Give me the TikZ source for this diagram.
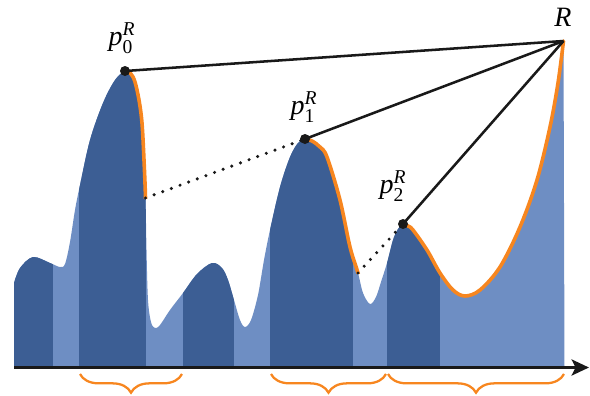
\documentclass[tikz,border=0pt]{standalone}
\usepackage{amsmath}
\usepackage{fontspec}
\setmainfont{Liberation Serif}
\usetikzlibrary{arrows.meta,decorations.pathreplacing}
\definecolor{darkb}{HTML}{3C5E94}
\definecolor{lightb}{HTML}{6E8EC3}
\definecolor{orng}{HTML}{F7861F}
\begin{document}
\begin{tikzpicture}[x=0.75pt,y=-0.75pt,
  lbl/.style={inner sep=0pt,font=\fontsize{21}{25}\selectfont},
  blackline/.style={line width=1.9pt,black!90},
  dotline/.style={line width=2.6pt,black!90,line cap=round,dash pattern=on 0pt off 6.9pt},
  orangeline/.style={line width=2.7pt,orng,line cap=round},
  dotnode/.style={circle,fill=black!90,inner sep=0pt,minimum size=7.5pt},
  bracestyle/.style={orng,line width=1.7pt,decorate,decoration={brace,mirror,amplitude=14pt}}]
\useasboundingbox (0,0) rectangle (590,396);
\def\curve{plot[smooth,tension=0.55] coordinates {(14,283) (20,268) (33,257) (50,263) (60,267) (65,264) (70,242) (75,210) (80,185) (90,140) (103,103) (115,80) (125,71) (131,74) (135,82) (139,100) (142,123) (144,160) (145.5,198) (146.5,250) (148,300) (151,322) (155,328) (160,325) (170,310) (183,293) (197,274) (212,263) (222,268) (228,280) (234,300) (240,320) (245,327) (251,320) (258,295) (264,260) (270,230) (280,187) (290,157) (298,143) (305,139) (312,141) (320,147) (327,157) (340,200) (350,247) (358,273) (363,293) (370,304) (376,297) (381,282) (387,263) (393,240) (398,229) (403,224) (408,226) (413,230) (427,250) (440,273) (453,290) (465,296) (480,290) (500,267) (520,227) (537,180) (550,127) (558,83) (563.5,41)}}
% area
\fill[lightb] \curve -- (564.5,367) -- (14,367) -- cycle;
\begin{scope}
\clip \curve -- (564.5,367) -- (14,367) -- cycle;
\fill[darkb] (14,0) rectangle (53,367);
\fill[darkb] (79,0) rectangle (146,367);
\fill[darkb] (183,0) rectangle (234,367);
\fill[darkb] (270,0) rectangle (353,367);
\fill[darkb] (387,0) rectangle (440,367);
\end{scope}
% orange parts of the curve
\begin{scope}
\clip (125,0) rectangle (152,198);
\draw[orangeline] \curve;
\end{scope}
\begin{scope}
\clip (305,0) rectangle (362,273);
\draw[orangeline] \curve;
\end{scope}
\begin{scope}
\clip (403,0) rectangle (575,367);
\draw[orangeline] \curve;
\end{scope}
% points
\coordinate (p0) at (125,71);
\coordinate (p1) at (305,139);
\coordinate (p2) at (403,224);
\coordinate (R) at (563.5,41);
\coordinate (a0) at (145.5,198);
\coordinate (a1) at (358,273);
\draw[blackline] (p0) -- (R);
\draw[blackline] (p1) -- (R);
\draw[blackline] (p2) -- (R);
\draw[dotline] (a0) -- (p1);
\draw[dotline] (a1) -- (p2);
\node[dotnode] (d0) at (p0) {};
\node[dotnode] (d1) at (p1) {};
\node[dotnode] (d2) at (p2) {};
% labels
\node[lbl] (l0) at (122,38) {$\textit{p}^{\textit{R}}_{\text{0}}$};
\node[lbl] (l1) at (304,107) {$\textit{p}^{\textit{R}}_{\text{1}}$};
\node[lbl] (l2) at (393,186) {$\textit{p}^{\textit{R}}_{\text{2}}$};
\node[lbl] (lR) at (563,17) {\textit{R}};
% axis
\coordinate (ax0) at (14,367.5);
\coordinate (ax1) at (589,367.5);
\draw[line width=2.6pt,black!90,-{Stealth[length=13pt,width=12pt,inset=3pt]}] (ax0) -- (ax1);
% braces
\coordinate (b1s) at (80,374);
\coordinate (b1e) at (182,374);
\coordinate (b2s) at (271,374);
\coordinate (b2e) at (386,374);
\coordinate (b3s) at (388,374);
\coordinate (b3e) at (564,374);
\draw[bracestyle] (b1s) -- (b1e);
\draw[bracestyle] (b2s) -- (b2e);
\draw[bracestyle] (b3s) -- (b3e);
\end{tikzpicture}
\end{document}
